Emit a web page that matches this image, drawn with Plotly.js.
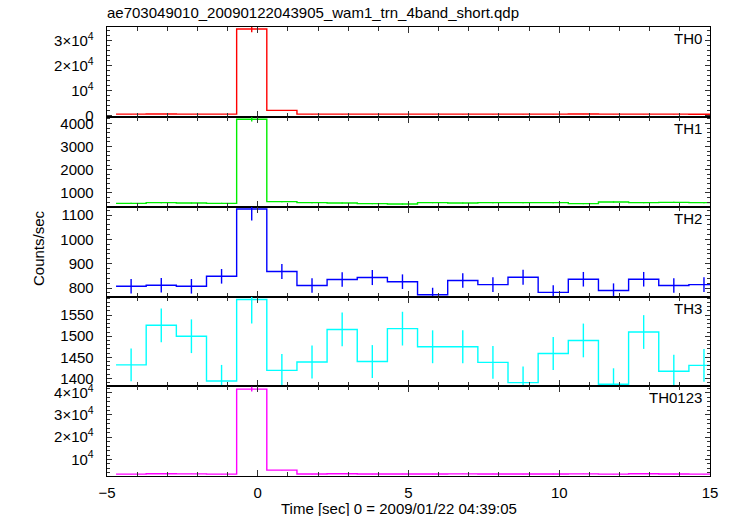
<!DOCTYPE html>
<html>
<head>
<meta charset="utf-8">
<script src="https://cdn.plot.ly/plotly-3.0.1.min.js"></script>
<style>html,body{margin:0;padding:0;background:#fff;}#chart{width:733px;height:516px;}</style>
</head>
<body>
<div id="chart"></div>
<script>
// ---- data ----
const binCenter = [-4.2,-3.2,-2.2,-1.2,-0.2,0.8,1.8,2.8,3.8,4.8,5.8,6.8,7.8,8.8,9.8,10.8,11.8,12.8,13.8,14.8];
const binHalfWidth = 0.5;

const th0 = [640,660,650,640,34700,2150,640,650,630,640,650,640,650,640,650,660,640,650,640,600];
const th0Err = [25,26,25,25,1300,46,25,25,25,25,25,25,25,25,25,26,25,25,25,24];

const th1 = [545,575,558,545,4180,618,575,558,532,515,575,558,575,575,575,532,601,575,588,575];
const th1Err = [23,24,24,23,90,25,24,24,23,23,24,24,24,24,24,23,25,24,24,24];

const th2 = [807,811,807,848,1125,868,810,835,843,826,772,831,814,844,782,836,790,836,810,814];
const th2Err = [30,30,30,30,48,31,30,30,31,30,29,30,30,31,29,30,29,30,30,30];

const th3 = [1432,1526,1500,1394,1587,1419,1439,1516,1440,1518,1475,1475,1438,1390,1459,1490,1386,1510,1417,1431];
const th3Err = [39,40,40,38,57,39,39,40,39,40,39,39,39,38,39,40,38,40,39,39];

const th0123 = [3424,3572,3515,3427,41600,5200,3464,3559,3445,3499,3472,3504,3477,3449,3466,3518,3417,3571,3455,3420];
const th0123Err = [59,60,59,59,1100,72,59,60,59,59,59,59,59,59,59,59,58,60,59,58];

const panelNames = ["TH0","TH1","TH2","TH3","TH0123"];
const titleText = "ae703049010_20090122043905_wam1_trn_4band_short.qdp";
const xTitleText = "Time [sec] 0 = 2009/01/22 04:39:05";
const yTitleText = "Counts/sec";

// ---- build ----
const series = [th0, th1, th2, th3, th0123];
const errors = [th0Err, th1Err, th2Err, th3Err, th0123Err];
const colors = ["#ff0000","#00ee00","#0000ff","#00ffff","#ff00ff"];

const W = 733, H = 516;
const plotTop = 27, plotBottom = 476;
const panelEdges = [27,117,207,297,386,476];
const ph = plotBottom - plotTop;
const pw = W - 107 - 23;
function py(p){ return (plotBottom - p)/ph; }

const yCfg = [
  {range:[-520,35500], tickvals:[0,10000,20000,30000], ticktext:["0","10<sup>4</sup>","2×10<sup>4</sup>","3×10<sup>4</sup>"], minor:2000},
  {range:[386,4280], tickvals:[1000,2000,3000,4000], ticktext:["1000","2000","3000","4000"], minor:200},
  {range:[763,1133], tickvals:[800,900,1000,1100], ticktext:["800","900","1000","1100"], minor:20},
  {range:[1382,1593], tickvals:[1400,1450,1500,1550], ticktext:["1400","1450","1500","1550"], minor:10},
  {range:[2570,43000], tickvals:[10000,20000,30000,40000], ticktext:["10<sup>4</sup>","2×10<sup>4</sup>","3×10<sup>4</sup>","4×10<sup>4</sup>"], minor:2000}
];

const traces = [];
const layout = {
  width: W, height: H,
  margin: {l:107, r:23, t:27, b:40, pad:0},
  paper_bgcolor: "#fff", plot_bgcolor: "#fff",
  showlegend: false,
  font: {family: "Liberation Sans, Arial, Helvetica, sans-serif", size: 15, color: "#000"},
  title: {text: titleText, x: 107/W, xanchor: "left", xref: "container", y: 1 - 13/H, yanchor: "middle", yref: "container",
          font: {size: 15, color: "#000"}, pad:{t:0,b:0,l:0,r:0}},
  annotations: []
};

for (let i = 0; i < 5; i++) {
  const n = i + 1;
  const xa = n === 1 ? "x" : "x" + n;
  const ya = n === 1 ? "y" : "y" + n;
  const vals = series[i];
  // step line built from bin edges
  const sx = [], sy = [];
  for (let k = 0; k < vals.length; k++) { sx.push(binCenter[k] - binHalfWidth); sy.push(vals[k]); }
  sx.push(binCenter[vals.length-1] + binHalfWidth); sy.push(vals[vals.length-1]);
  traces.push({type:"scatter", mode:"lines", x:sx, y:sy, xaxis:xa, yaxis:ya,
    line:{shape:"hv", color:colors[i], width:1.4}, hoverinfo:"skip"});
  traces.push({type:"scatter", mode:"markers", x:binCenter, y:vals, xaxis:xa, yaxis:ya,
    marker:{size:1, color:"rgba(0,0,0,0)"},
    error_y:{type:"data", array:errors[i], visible:true, color:colors[i], thickness:1.4, width:0}, hoverinfo:"skip"});

  const top = panelEdges[i], bot = panelEdges[i+1];
  const xKey = n === 1 ? "xaxis" : "xaxis" + n;
  const yKey = n === 1 ? "yaxis" : "yaxis" + n;
  layout[xKey] = {
    domain:[0,1], anchor: ya, range:[-5,15], dtick:5, tick0:0,
    ticks:"inside", ticklen:6, tickwidth:1, tickcolor:"#333",
    minor:{dtick:1, ticks:"inside", ticklen:4, tickwidth:1, tickcolor:"#333"},
    showline:true, linecolor:"#000", linewidth:1.3, mirror:"allticks",
    showgrid:false, zeroline:false,
    showticklabels: n === 5, tickfont:{size:15}, ticklabelstandoff: 3
  };
  if (n !== 1) layout[xKey].matches = "x";
  const c = yCfg[i];
  layout[yKey] = {
    domain:[py(bot), py(top)], anchor: xa, range:c.range,
    tickmode:"array", tickvals:c.tickvals, ticktext:c.ticktext,
    ticks:"inside", ticklen:5, tickwidth:1, tickcolor:"#333",
    minor:{dtick:c.minor, ticks:"inside", ticklen:3, tickwidth:1, tickcolor:"#333"},
    showline:true, linecolor:"#000", linewidth:1.3, mirror:"allticks",
    showgrid:false, zeroline:false, tickfont:{size:15}, ticklabelstandoff: 9
  };
  layout.annotations.push({text: panelNames[i], xref:"paper", yref:"paper", x: (704-107)/pw, y: py(top+1),
    xanchor:"right", yanchor:"top", showarrow:false, font:{size:15, color:"#000"}});
}

layout.annotations.push({text: xTitleText, xref:"paper", yref:"paper", x:(399-107)/pw, y:-(508-476)/ph,
  xanchor:"center", yanchor:"middle", showarrow:false, font:{size:15, color:"#000"}});
layout.annotations.push({text: yTitleText, xref:"paper", yref:"paper", x:-(107-38)/pw, y:py(248),
  xanchor:"center", yanchor:"middle", textangle:-90, showarrow:false, font:{size:15, color:"#000"}});

Plotly.newPlot("chart", traces, layout, {staticPlot:true, displayModeBar:false});
</script>
</body>
</html>
